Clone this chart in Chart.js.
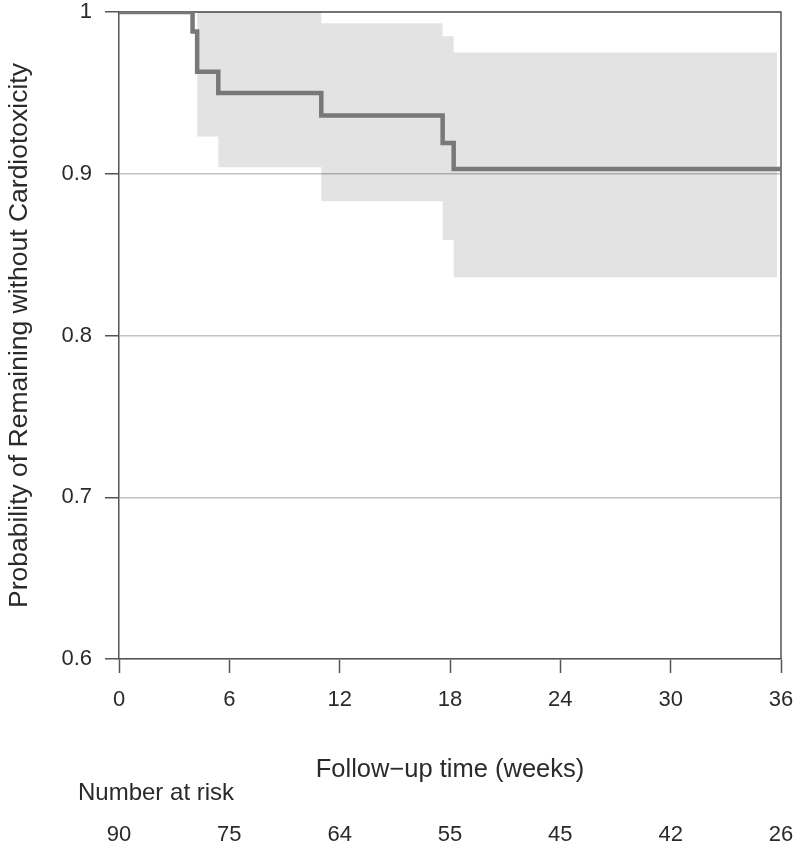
<!DOCTYPE html>
<html>
<head>
<meta charset="utf-8">
<script src="https://cdn.jsdelivr.net/npm/chart.js@4/dist/chart.umd.min.js"></script>
<style>
  html, body { margin: 0; padding: 0; background: #fff; }
  #wrap { width: 800px; height: 854px; }
</style>
</head>
<body>
<div id="wrap"><canvas id="kmChart" width="800" height="854"></canvas></div>
<script>
// Kaplan-Meier estimate (weeks, probability)
const kmTimes = [0, 4.0, 4.25, 5.4, 11.0, 17.6, 18.2, 36];
const kmSurv  = [1, 0.988, 0.963, 0.950, 0.936, 0.919, 0.903, 0.903];

// confidence band
const ciTimes = [4.25, 5.4, 11.0, 17.6, 18.2, 35.8];
const ciUpper = [1, 1, 0.993, 0.985, 0.975, 0.975];
const ciLower = [0.923, 0.904, 0.883, 0.859, 0.836, 0.836];

// number at risk table
const riskTimes  = [0, 6, 12, 18, 24, 30, 36];
const riskCounts = [90, 75, 64, 55, 45, 42, 26];

const yTicks = [0.6, 0.7, 0.8, 0.9, 1];

const FONT = "'Liberation Sans', Arial, Helvetica, sans-serif";
const textColor = '#2a2a2a';
const axisColor = '#555';

function pts(xs, ys) {
  return xs.map((x, i) => ({ x: x, y: ys[i] }));
}

// top + right frame lines, and the number at risk rows
const framePlugin = {
  id: 'frame',
  beforeDatasetsDraw(chart) {
    const a = chart.chartArea, ctx = chart.ctx;
    ctx.save();
    ctx.strokeStyle = axisColor;
    ctx.lineWidth = 1.5;
    ctx.beginPath();
    ctx.moveTo(a.left, a.top);
    ctx.lineTo(a.right, a.top);
    ctx.lineTo(a.right, a.bottom);
    ctx.stroke();
    ctx.restore();
  },
  afterDraw(chart) {
    const ctx = chart.ctx, xs = chart.scales.x;
    ctx.save();
    ctx.fillStyle = textColor;
    ctx.font = '24px ' + FONT;
    ctx.textAlign = 'left';
    ctx.textBaseline = 'middle';
    ctx.fillText('Number at risk', 78, 793);
    ctx.font = '22px ' + FONT;
    ctx.textAlign = 'center';
    riskTimes.forEach((t, i) => {
      ctx.fillText(String(riskCounts[i]), xs.getPixelForValue(t), 835);
    });
    ctx.restore();
  }
};

var ctx = document.getElementById('kmChart').getContext('2d');
var chart = new Chart(ctx, {
  type: 'line',
  data: {
    datasets: [{
      label: 'Survival',
      data: pts(kmTimes, kmSurv),
      stepped: true,
      borderColor: '#787878',
      borderWidth: 4.5,
      pointRadius: 0,
      fill: false
    }, {
      label: 'Upper',
      data: pts(ciTimes, ciUpper),
      stepped: true,
      borderWidth: 0,
      borderColor: 'rgba(0,0,0,0)',
      backgroundColor: 'rgba(0,0,0,0.11)',
      pointRadius: 0,
      fill: '+1'
    }, {
      label: 'Lower',
      data: pts(ciTimes, ciLower),
      stepped: true,
      borderWidth: 0,
      borderColor: 'rgba(0,0,0,0)',
      pointRadius: 0,
      fill: false
    }]
  },
  options: {
    responsive: false,
    animation: false,
    layout: { padding: { top: 12, right: 19, left: 0, bottom: 0 } },
    plugins: {
      legend: { display: false },
      tooltip: { enabled: false }
    },
    scales: {
      x: {
        type: 'linear',
        min: 0,
        max: 36,
        ticks: {
          stepSize: 6,
          padding: 14,
          color: textColor,
          font: { family: FONT, size: 22 },
          maxRotation: 0
        },
        grid: {
          drawOnChartArea: false,
          drawTicks: true,
          tickLength: 14,
          tickColor: axisColor,
          tickWidth: 1.5
        },
        border: { display: true, color: axisColor, width: 1.5 },
        title: {
          display: true,
          text: 'Follow\u2212up time (weeks)',
          color: textColor,
          font: { family: FONT, size: 25.5 },
          padding: { top: 0, bottom: 69 }
        },
        afterFit(scale) {
          scale.height = 195;
          scale.paddingLeft = 0;
          scale.paddingRight = 0;
        }
      },
      y: {
        type: 'linear',
        min: 0.6,
        max: 1,
        afterBuildTicks(scale) { scale.ticks = yTicks.map(v => ({ value: v })); },
        ticks: {
          padding: 13,
          color: textColor,
          font: { family: FONT, size: 22 },
          callback: v => (v === 1 ? '1' : v.toFixed(1))
        },
        grid: {
          color: '#c2c2c2',
          lineWidth: 1.5,
          tickLength: 14,
          tickColor: axisColor,
          tickWidth: 1.5
        },
        border: { display: true, color: axisColor, width: 1.5 },
        title: {
          display: true,
          text: 'Probability of Remaining without Cardiotoxicity',
          color: textColor,
          font: { family: FONT, size: 26.5 },
          padding: { top: 4, bottom: 0 }
        },
        afterFit(scale) {
          scale.width = 119;
          scale.paddingTop = 0;
          scale.paddingBottom = 0;
        }
      }
    }
  },
  plugins: [framePlugin]
});
</script>
</body>
</html>
